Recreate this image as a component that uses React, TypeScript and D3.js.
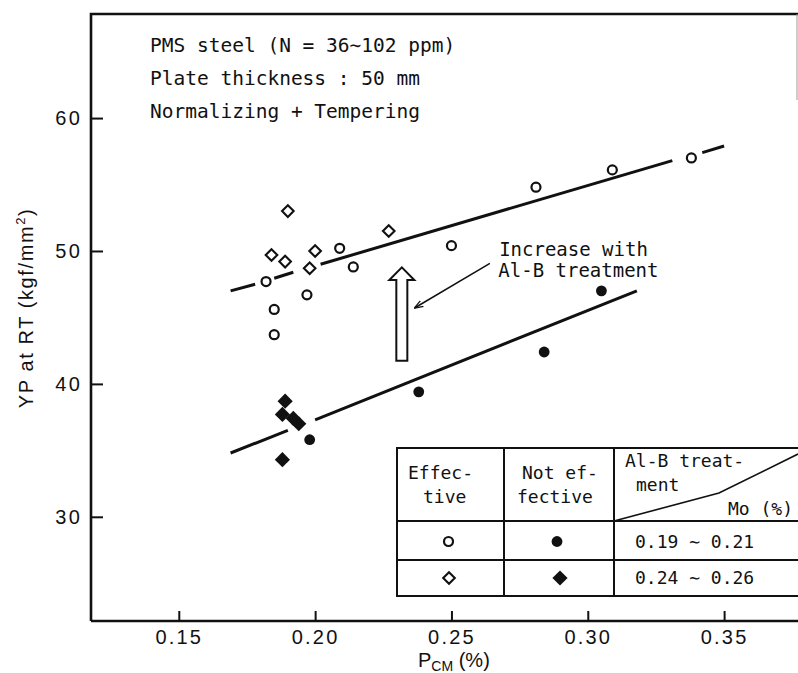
import { useRef, useEffect } from "react";
import { scaleLinear, axisBottom, axisLeft, select, format, line as d3Line } from "d3";

const W = 798;
const H = 673;
const MARGIN = { top: 14, right: 0, bottom: 52, left: 91 };

const X_DOMAIN = [0.1178, 0.3771];
const Y_DOMAIN = [22.16, 67.83];
const X_TICKS = [0.15, 0.2, 0.25, 0.3, 0.35];
const Y_TICKS = [30, 40, 50, 60];

// [Pcm %, YP kgf/mm2]
const effectiveMo19 = [
  [0.182, 47.7], [0.185, 45.6], [0.185, 43.7], [0.197, 46.7], [0.209, 50.2],
  [0.214, 48.8], [0.25, 50.4], [0.281, 54.8], [0.309, 56.1], [0.338, 57.0],
];
const effectiveMo24 = [
  [0.184, 49.7], [0.189, 49.2], [0.19, 53.0], [0.198, 48.7], [0.2, 50.0], [0.227, 51.5],
];
const notEffectiveMo19 = [
  [0.198, 35.8], [0.238, 39.4], [0.284, 42.4], [0.305, 47.0],
];
const notEffectiveMo24 = [
  [0.189, 38.7], [0.188, 37.7], [0.192, 37.4], [0.194, 37.0], [0.188, 34.3],
];

// trend lines, drawn as the broken segments of the original
const upperLine = [
  [[0.169, 47.0], [0.178, 47.5]],
  [[0.185, 47.95], [0.192, 48.4]],
  [[0.202, 49.0], [0.331, 56.8]],
  [[0.342, 57.4], [0.35, 57.9]],
];
const lowerLine = [
  [[0.169, 34.8], [0.19, 36.5]],
  [[0.2, 37.3], [0.318, 47.0]],
];

const headerLines = [
  "PMS steel (N = 36\u223C102 ppm)",
  "Plate thickness : 50 mm",
  "Normalizing + Tempering",
];

const moRanges = ["0.19 \u223C 0.21", "0.24 \u223C 0.26"];

const MONO = "'DejaVu Sans Mono', monospace";
const SANS = "'Liberation Sans', Arial, sans-serif";
const INK = "#111";

const diamond = (h: number) => `M0,${-h}L${h},0L0,${h}L${-h},0Z`;

function Marker({ kind, cx, cy }: { kind: string; cx: number; cy: number }) {
  const t = `translate(${cx},${cy})`;
  if (kind === "oc") return <circle cx={cx} cy={cy} r={4.5} fill="#fff" stroke={INK} strokeWidth={2.2} />;
  if (kind === "fc") return <circle cx={cx} cy={cy} r={5.4} fill={INK} />;
  if (kind === "od") return <path transform={t} d={diamond(5.8)} fill="#fff" stroke={INK} strokeWidth={2.1} />;
  return <path transform={t} d={diamond(7.6)} fill={INK} />;
}

export default function App() {
  const svgRef = useRef<SVGSVGElement>(null);

  const x = scaleLinear().domain(X_DOMAIN).range([MARGIN.left, W - MARGIN.right]);
  const y = scaleLinear().domain(Y_DOMAIN).range([H - MARGIN.bottom, MARGIN.top]);
  const x0 = MARGIN.left;
  const yb = H - MARGIN.bottom;

  useEffect(() => {
    if (!svgRef.current) return;
    const svg = select(svgRef.current);

    const gx = svg.select<SVGGElement>(".x-axis")
      .attr("transform", `translate(0,${yb})`)
      .call(axisBottom(x).tickValues(X_TICKS).tickFormat(format(".2f")).tickSize(-10).tickPadding(9));
    gx.select(".domain").remove();
    gx.selectAll("line").attr("stroke", INK).attr("stroke-width", 2);
    gx.selectAll("text")
      .attr("fill", INK)
      .style("font-family", SANS)
      .style("font-size", "20px")
      .style("letter-spacing", "2.2px");

    const gy = svg.select<SVGGElement>(".y-axis")
      .attr("transform", `translate(${x0},0)`)
      .call(axisLeft(y).tickValues(Y_TICKS).tickFormat(format("d")).tickSize(-12).tickPadding(9));
    gy.select(".domain").remove();
    gy.selectAll("line").attr("stroke", INK).attr("stroke-width", 2);
    gy.selectAll("text")
      .attr("fill", INK)
      .style("font-family", SANS)
      .style("font-size", "20px")
      .style("letter-spacing", "2.2px");
  }, []);

  const seg = d3Line<number[]>().x((d) => x(d[0])).y((d) => y(d[1]));

  // block arrow "increase"
  const ax = x(0.2318);
  const aBot = y(41.74);
  const aHead = y(47.81);
  const aTop = y(48.77);
  const blockArrow = `M${ax - 5.5},${aBot}L${ax + 5.5},${aBot}L${ax + 5.5},${aHead}L${ax + 12.5},${aHead}L${ax},${aTop}L${ax - 12.5},${aHead}L${ax - 5.5},${aHead}Z`;

  // table (legend) geometry
  const tL = 397, tT = 448, tR = 800, tH = 521, tM = 560, tB = 596, c1 = 504, c2 = 614;

  return (
    <svg
      ref={svgRef}
      width={W}
      height={H}
      viewBox={`0 0 ${W} ${H}`}
      style={{ position: "absolute", left: 0, top: 0, background: "#fff" }}
    >
      <rect width={W} height={H} fill="#fff" />

      {/* frame */}
      <path d={`M${x0},${yb}L${x0},${MARGIN.top}L${W},${MARGIN.top}`} fill="none" stroke={INK} strokeWidth={2.6} />
      <path d={`M${x0},${yb}L${W},${yb}`} fill="none" stroke={INK} strokeWidth={2.6} />
      <path d={`M${W - 1},${MARGIN.top}L${W - 1},100`} fill="none" stroke="#999" strokeWidth={1} />

      <g className="x-axis" />
      <g className="y-axis" />

      {/* header notes */}
      <g fontFamily={MONO} fontSize={19.5} fill={INK}>
        {headerLines.map((t, i) => (
          <text key={t} x={150} y={52 + i * 33}>{t}</text>
        ))}
      </g>

      {/* trend lines */}
      {[...upperLine, ...lowerLine].map((s, i) => (
        <path key={i} d={seg(s) ?? ""} fill="none" stroke={INK} strokeWidth={3} strokeLinecap="butt" />
      ))}

      {/* increase arrow and note */}
      <path d={blockArrow} fill="#fff" stroke={INK} strokeWidth={2} strokeLinejoin="miter" />
      <defs>
        <marker id="tip" viewBox="0 0 10 10" refX={9} refY={5} markerWidth={9} markerHeight={9} orient="auto" markerUnits="userSpaceOnUse">
          <path d="M0,1.5L10,5L0,8.5" fill="none" stroke={INK} strokeWidth={1.4} />
        </marker>
      </defs>
      <line x1={x(0.2641)} y1={y(49.07)} x2={x(0.2366)} y2={y(45.73)} stroke={INK} strokeWidth={1.5} markerEnd="url(#tip)" />
      <g fontFamily={MONO} fontSize={19} fill={INK}>
        <text x={x(0.2675)} y={y(49.64)}>Increase with</text>
        <text x={x(0.2672)} y={y(48.06)}>Al-B treatment</text>
      </g>

      {/* data points */}
      {effectiveMo19.map((d, i) => <Marker key={`a${i}`} kind="oc" cx={x(d[0])} cy={y(d[1])} />)}
      {effectiveMo24.map((d, i) => <Marker key={`b${i}`} kind="od" cx={x(d[0])} cy={y(d[1])} />)}
      {notEffectiveMo19.map((d, i) => <Marker key={`c${i}`} kind="fc" cx={x(d[0])} cy={y(d[1])} />)}
      {notEffectiveMo24.map((d, i) => <Marker key={`d${i}`} kind="fd" cx={x(d[0])} cy={y(d[1])} />)}

      {/* legend table */}
      <g stroke={INK} strokeWidth={2} fill="none">
        <rect x={tL} y={tT} width={tR - tL} height={tB - tT} fill="#fff" />
        <line x1={tL} y1={tH} x2={tR} y2={tH} />
        <line x1={tL} y1={tM} x2={tR} y2={tM} />
        <line x1={c1} y1={tT} x2={c1} y2={tB} />
        <line x1={c2} y1={tT} x2={c2} y2={tB} />
        <path d={`M${c2},${tH}L719,493L${W},454`} strokeWidth={1.6} />
      </g>
      <g fontFamily={MONO} fontSize={18} fill={INK}>
        <text x={408} y={479}>Effec-</text>
        <text x={423} y={503}>tive</text>
        <text x={522} y={479}>Not ef-</text>
        <text x={517} y={503}>fective</text>
        <text x={625} y={467}>Al-B treat-</text>
        <text x={636} y={491}>ment</text>
        <text x={728} y={515}>Mo (%)</text>
        {moRanges.map((t, i) => (
          <text key={t} x={635} y={548 + i * 36}>{t}</text>
        ))}
      </g>
      <Marker kind="oc" cx={448.5} cy={541.5} />
      <Marker kind="fc" cx={557} cy={541.5} />
      <Marker kind="od" cx={449} cy={578} />
      <Marker kind="fd" cx={560} cy={578} />

      {/* axis titles */}
      <text x={418} y={667} fontFamily={SANS} fontSize={20} fill={INK}>
        P<tspan fontSize={14} dy={4}>CM</tspan><tspan dy={-4}> (%)</tspan>
      </text>
      <text
        transform={`translate(33,308) rotate(-90)`}
        textAnchor="middle"
        fontFamily={SANS}
        fontSize={20}
        fill={INK}
        letterSpacing={1.6}
      >
        YP at RT (kgf/mm<tspan fontSize={13} dy={-8}>2</tspan><tspan dy={8}>)</tspan>
      </text>
    </svg>
  );
}
